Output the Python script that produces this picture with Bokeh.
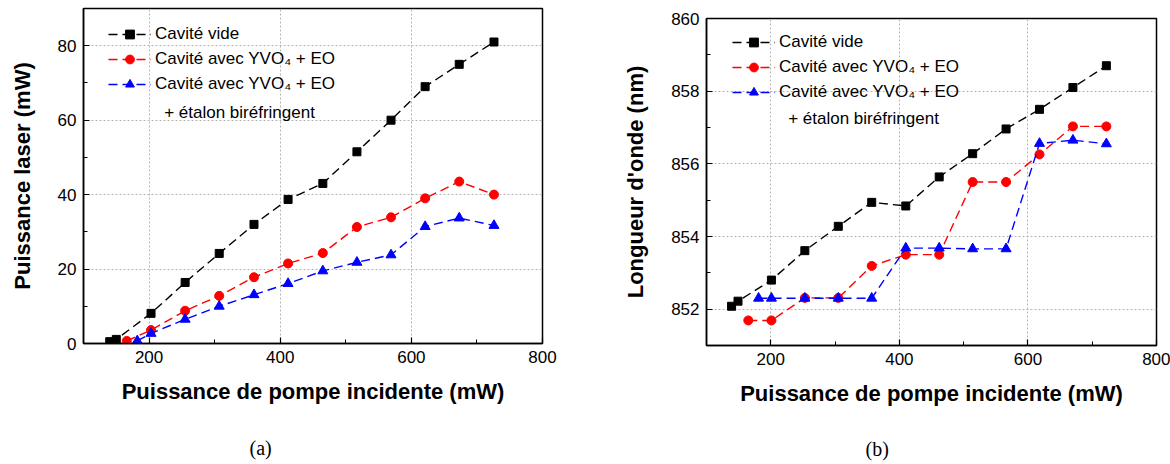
from bokeh.plotting import figure
from bokeh.layouts import row
from bokeh.models import Range1d, SingleIntervalTicker, Legend, LegendItem, Label, Title
from bokeh.embed import file_html
from bokeh.resources import INLINE

FONT = "Liberation Sans"

# ---------------- data : panel (a) laser power vs pump power ----------------
pump_a = [140, 150, 203, 255, 307, 360, 412, 465, 517, 569, 621, 673, 726]
power_empty = [0.5, 1.1, 8.1, 16.4, 24.2, 32.0, 38.7, 43.0, 51.5, 60.0, 69.0, 75.0, 81.0]
pump_a_eo = [166, 203, 255, 307, 360, 412, 465, 517, 569, 621, 673, 726]
power_eo = [0.7, 3.6, 8.8, 12.8, 17.8, 21.5, 24.3, 31.3, 33.9, 39.0, 43.5, 40.0]
pump_a_bf = [182, 203, 255, 307, 360, 412, 465, 517, 569, 621, 673, 726]
power_bf = [0.7, 2.7, 6.5, 10.0, 13.1, 16.1, 19.5, 21.8, 23.8, 31.4, 33.7, 31.7]

# ---------------- data : panel (b) wavelength vs pump power ----------------
pump_b = [139, 149, 201, 253, 305, 357, 410, 462, 514, 566, 618, 670, 722]
wl_empty = [852.08, 852.22, 852.80, 853.61, 854.28, 854.94, 854.84, 855.64, 856.28,
            856.96, 857.50, 858.10, 858.70]
pump_b_eo = [165, 201, 253, 305, 357, 410, 462, 514, 566, 618, 670, 722]
wl_eo = [851.69, 851.69, 852.31, 852.31, 853.19, 853.50, 853.50, 855.50, 855.50,
         856.26, 857.03, 857.03]
pump_b_bf = [181, 201, 253, 305, 357, 410, 462, 514, 566, 618, 670, 722]
wl_bf = [852.30, 852.30, 852.30, 852.30, 852.30, 853.68, 853.68, 853.66, 853.66,
         856.56, 856.65, 856.55]

labels = ["Cavité vide", "Cavité avec YVO₄ + EO", "Cavité avec YVO₄ + EO"]
extra_label = "+ étalon biréfringent"
x_label = "Puissance de pompe incidente (mW)"
x_ticks_interval = 200


def make_panel(width, height, mb_left, mb_right, mb_top, mb_bottom, yr, y_interval,
               y_label, series, legend_loc, extra_xy, caption, caption_offset, spacer):
    p = figure(width=width, height=height, x_range=Range1d(100, 800), y_range=Range1d(*yr),
               output_backend="svg", toolbar_location=None,
               min_border_left=mb_left, min_border_right=mb_right,
               min_border_top=mb_top, min_border_bottom=mb_bottom)
    try:
        p.frame_align = False
    except Exception:
        pass
    p.background_fill_color = "white"
    p.border_fill_color = "white"
    p.outline_line_color = "black"
    p.outline_line_width = 1.5
    p.xaxis.ticker = SingleIntervalTicker(interval=x_ticks_interval, num_minor_ticks=2)
    p.yaxis.ticker = SingleIntervalTicker(interval=y_interval, num_minor_ticks=2)
    p.xaxis.axis_label = x_label
    p.yaxis.axis_label = y_label
    for ax in p.axis:
        ax.axis_line_color = "black"
        ax.axis_line_width = 1.5
        ax.major_tick_in = 6
        ax.major_tick_out = 0
        ax.minor_tick_in = 4
        ax.minor_tick_out = 0
        ax.major_tick_line_color = "black"
        ax.minor_tick_line_color = "black"
        ax.major_tick_line_width = 1.2
        ax.major_label_text_font = FONT
        ax.major_label_text_font_size = "17px"
        ax.major_label_text_color = "black"
        ax.major_label_standoff = 7
        ax.axis_label_text_font = FONT
        ax.axis_label_text_font_size = "22px"
        ax.axis_label_text_font_style = "bold"
        ax.axis_label_text_color = "black"
    p.xaxis.axis_label_standoff = 13
    p.yaxis.axis_label_standoff = 20
    p.grid.grid_line_color = "#b4b4b4"
    p.grid.grid_line_dash = "2 2"
    p.grid.grid_line_width = 1

    items = []
    for (xs, ys, color, marker, size), lab in zip(series, labels):
        ln = p.line(xs, ys, line_color=color, line_dash="9 5", line_width=1.4)
        sc = p.scatter(xs, ys, marker=marker, size=size, fill_color=color, line_color=color)
        items.append(LegendItem(label=lab, renderers=[ln, sc]))

    legend = Legend(items=items, location=legend_loc, glyph_width=43, glyph_height=22,
                    label_height=22, label_standoff=4, spacing=3, padding=0, margin=0,
                    border_line_color=None, background_fill_alpha=0,
                    label_text_font=FONT, label_text_font_size="17px",
                    label_text_color="black")
    p.add_layout(legend)
    p.add_layout(Label(x=extra_xy[0], y=extra_xy[1], text=extra_label, text_font=FONT,
                       text_font_size="17px", text_baseline="middle", text_color="black"))
    # invisible spacer between the axis label and the caption
    p.add_layout(Title(text=" ", text_font_size="1px", standoff=spacer), "below")
    p.add_layout(Title(text=caption, align="left", offset=caption_offset,
                       text_font="Liberation Serif", text_font_size="20px",
                       text_font_style="normal", text_color="black", standoff=0), "below")
    return p


series_a = [(pump_a, power_empty, "black", "square", 8),
            (pump_a_eo, power_eo, "red", "circle", 9),
            (pump_a_bf, power_bf, "blue", "triangle", 10)]
series_b = [(pump_b, wl_empty, "black", "square", 8),
            (pump_b_eo, wl_eo, "red", "circle", 9),
            (pump_b_bf, wl_bf, "blue", "triangle", 10)]

p1 = make_panel(580, 462, 83, 38, 8, 119, (0, 90), 20, "Puissance laser (mW)",
                series_a, (25, 248), (223, 62), "(a)", 166, 25)
p2 = make_panel(590, 462, 126, 14, 18, 117, (851, 860), 2, "Longueur d'onde (nm)",
                series_b, (26, 242.5), (227, 857.25), "(b)", 159, 24)

layout = row(p1, p2)
open("out.html", "w").write(file_html(layout, INLINE))
